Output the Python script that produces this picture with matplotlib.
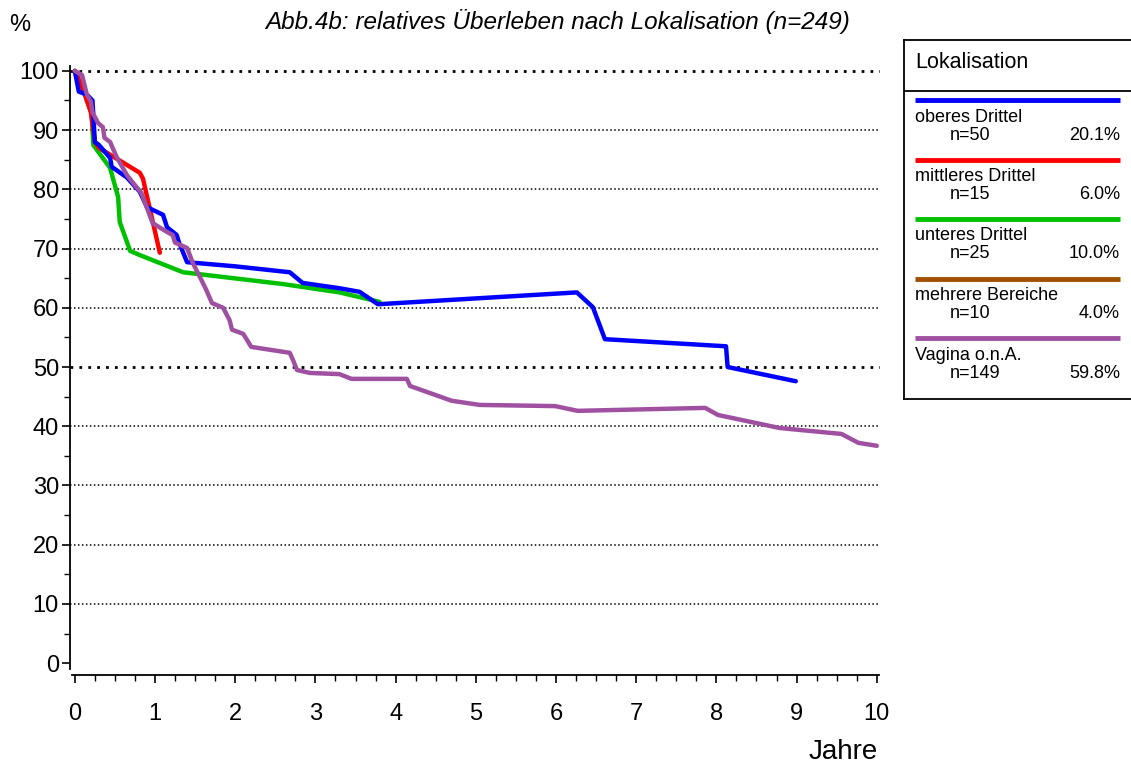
import numpy as np
import matplotlib.pyplot as plt
from matplotlib.ticker import MultipleLocator

plt.rcParams['font.family'] = ['Liberation Sans', 'DejaVu Sans']

# survival curves (years, %)
oben_x = [0, 0.05, 0.15, 0.22, 0.25, 0.30, 0.44, 0.46, 0.65, 0.81, 0.90, 1.10, 1.15, 1.27, 1.30, 1.40, 2.0, 2.68, 2.84, 3.30, 3.55, 3.78, 6.26, 6.46, 6.61, 8.12, 8.14, 8.99]
oben_y = [100, 96.5, 96, 95, 88, 87.5, 85.3, 83.8, 82, 79.6, 77, 75.7, 73.6, 72.3, 71, 67.7, 67, 66, 64.2, 63.3, 62.7, 60.6, 62.6, 60.1, 54.7, 53.5, 50, 47.6]

mitte_x = [0, 0.10, 0.20, 0.25, 0.30, 0.81, 0.85, 1.06]
mitte_y = [100, 97, 93, 88, 87, 82.8, 81.8, 69.3]

unten_x = [0, 0.10, 0.21, 0.23, 0.44, 0.54, 0.56, 0.69, 0.81, 1.35, 2.60, 3.30, 3.80]
unten_y = [100, 97, 92.9, 87.5, 83.6, 78.7, 74.5, 69.6, 68.9, 66, 64, 62.6, 61]

vagina_x = [0, 0.09, 0.15, 0.20, 0.22, 0.29, 0.35, 0.37, 0.44, 0.52, 0.65, 0.75, 0.83, 0.97, 1.15, 1.22, 1.25, 1.40, 1.47, 1.56, 1.64, 1.71, 1.85, 1.93, 1.96, 2.10, 2.20, 2.68, 2.72, 2.77, 2.93, 3.30, 3.45, 4.14, 4.18, 4.70, 5.05, 5.99, 6.27, 7.86, 8.02, 8.79, 9.56, 9.77, 10.0]
vagina_y = [100, 99.3, 96, 94.8, 93, 91.2, 90.5, 88.7, 88, 85.5, 82.4, 80.7, 79.4, 74.3, 72.8, 72.3, 71, 70.1, 67.6, 65.2, 63, 60.8, 60, 57.9, 56.3, 55.6, 53.4, 52.4, 51.2, 49.5, 49, 48.8, 48, 48, 46.8, 44.3, 43.6, 43.4, 42.6, 43.1, 41.9, 39.7, 38.7, 37.2, 36.7]

labels = ['oberes Drittel', 'mittleres Drittel', 'unteres Drittel', 'mehrere Bereiche', 'Vagina o.n.A.']
counts = [50, 15, 25, 10, 149]
anteil = ['20.1%', '6.0%', '10.0%', '4.0%', '59.8%']
farben = ['#0000ff', '#ff0000', '#00c000', '#a05000', '#a050a0']

fig = plt.figure(figsize=(11.31, 7.67), dpi=100)
ax = fig.add_axes([70 / 1131, 1 - 675 / 767, 810 / 1131, 613 / 767])

ax.set_xlim(-0.06, 10.04)
ax.set_ylim(-2, 101.5)

# dotted grid, heavier at 50 and 100
for g in range(10, 101, 10):
    heavy = g in (50, 100)
    ax.axhline(g, color='black', lw=2.0 if heavy else 1.1,
               ls=(0, (1, 2.2)) if heavy else (0, (1, 1.6)), zorder=1)

series = [(oben_x, oben_y), (mitte_x, mitte_y), (unten_x, unten_y), None, (vagina_x, vagina_y)]
# draw order: green/red under blue, purple on top
for i in [2, 1, 0, 4]:
    x, y = series[i]
    ax.plot(x, y, color=farben[i], lw=3.2, solid_joinstyle='round', solid_capstyle='round', zorder=3)

for s in ['top', 'right']:
    ax.spines[s].set_visible(False)
ax.spines['left'].set_bounds(-1, 100.8)
ax.spines['bottom'].set_bounds(-0.03, 10.03)
ax.spines['left'].set_linewidth(1.3)
ax.spines['bottom'].set_linewidth(1.3)

ax.xaxis.set_major_locator(MultipleLocator(1))
ax.xaxis.set_minor_locator(MultipleLocator(0.25))
ax.yaxis.set_major_locator(MultipleLocator(10))
ax.yaxis.set_minor_locator(MultipleLocator(5))
ax.tick_params(axis='both', which='major', length=6, width=1.2, colors='black')
ax.tick_params(axis='both', which='minor', length=4, width=1.0)
ax.tick_params(axis='y', labelsize=17, pad=2)
ax.tick_params(axis='x', labelsize=17, pad=14)

fig.text(20 / 1131, 1 - 25 / 767, '%', fontsize=17, ha='center', va='center')
fig.text(558 / 1131, 1 - 22 / 767, 'Abb.4b: relatives Überleben nach Lokalisation (n=249)',
         fontsize=17.5, style='italic', ha='center', va='center')
fig.text(878 / 1131, 1 - 752 / 767, 'Jahre', fontsize=20, ha='right', va='center')

# legend box drawn in pixel coordinates
lg = fig.add_axes([904 / 1131, 1 - 399 / 767, 227 / 1131, 359 / 767])
lg.set_xlim(904, 1131)
lg.set_ylim(399, 40)
lg.set_xticks([])
lg.set_yticks([])
lg.spines['right'].set_visible(False)
for s in ['left', 'top', 'bottom']:
    lg.spines[s].set_linewidth(1.3)
lg.plot([904, 1131], [91, 91], color='black', lw=1.3)
lg.text(915, 63, 'Lokalisation', fontsize=15.5, va='center', ha='left')
for i in range(len(labels)):
    y0 = 100 + i * 59.5
    lg.plot([915, 1120], [y0, y0], color=farben[i], lw=3.5, solid_capstyle='butt')
    lg.text(915, y0 + 17, labels[i], fontsize=13, va='center', ha='left')
    lg.text(950, y0 + 35, 'n=%d' % counts[i], fontsize=13, va='center', ha='left')
    lg.text(1120, y0 + 35, anteil[i], fontsize=13, va='center', ha='right')

fig.savefig('out.png', dpi=100)
